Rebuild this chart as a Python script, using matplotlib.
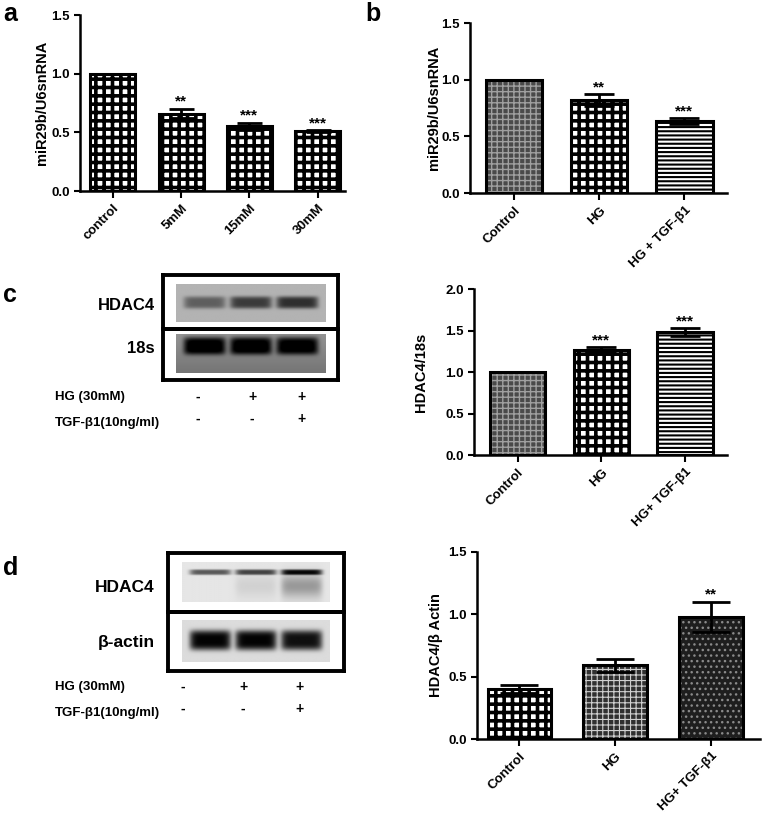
import numpy as np
import matplotlib as mpl
import matplotlib.pyplot as plt

plt.rcParams['font.family'] = ['Liberation Sans', 'DejaVu Sans']
plt.rcParams['font.weight'] = 'bold'
plt.rcParams['axes.labelweight'] = 'bold'
plt.rcParams['hatch.linewidth'] = 1.5

W, H = 762, 819

# ---- data ----
a_groups = ['control', '5mM', '15mM', '30mM']
a_vals = [1.0, 0.66, 0.55, 0.51]
a_err = [0.0, 0.04, 0.03, 0.01]
a_stars = ['', '**', '***', '***']

b_groups = ['Control', 'HG', 'HG + TGF-β1']
b_vals = [1.0, 0.82, 0.635]
b_err = [0.0, 0.05, 0.025]
b_stars = ['', '**', '***']

c_groups = ['Control', 'HG', 'HG+ TGF-β1']
c_vals = [1.0, 1.27, 1.48]
c_err = [0.0, 0.03, 0.05]
c_stars = ['', '***', '***']

d_groups = ['Control', 'HG', 'HG+ TGF-β1']
d_vals = [0.40, 0.59, 0.98]
d_err = [0.03, 0.05, 0.12]
d_stars = ['', '', '**']

# blot band darkness per lane
c_hdac4_bands = [0.33, 0.47, 0.52]
c_18s_bands = [0.62, 0.62, 0.6]
d_hdac4_bands = [0.55, 0.62, 0.8]
d_hdac4_smear = [0.0, 0.08, 0.3]
d_actin_bands = [0.85, 0.85, 0.8]

hg_row = ['-', '+', '+']
tgf_row = ['-', '-', '+']

# bar fills: (face, hatch colour, hatch, hatch linewidth)
checker = ('white', 'black', '++', 2.6)
fine = ('#4a4a4a', '#a0a0a0', '+++', 1.0)
stripes = ('white', 'black', '----', 1.5)
brick = ('#303030', '#d0d0d0', '+++', 0.8)
speckle = ('#1e1e1e', '#8a8a8a', '...', 1.0)


def box(l, t, r, b):
    return [l / W, 1 - b / H, (r - l) / W, (b - t) / H]


def ftext(x, y, s, **kw):
    fig.text(x / W, 1 - y / H, s, **kw)


fig = plt.figure(figsize=(W / 100, H / 100), dpi=100)


def bar_panel(px, groups, vals, errs, stars, fills, ylim, yticks, ylabel,
              xlim, label_right, capsize):
    l, t, r, b = px
    ax = fig.add_axes(box(l, t, r, b))
    x = np.arange(len(groups))
    width = 0.66
    for xi, v, (face, hc, hatch, hlw) in zip(x, vals, fills):
        with mpl.rc_context({'hatch.linewidth': hlw}):
            bars = ax.bar(xi, v, width, color=face, edgecolor=hc, hatch=hatch,
                          linewidth=0, zorder=2)
        for p in bars:
            if hasattr(p, 'set_hatch_linewidth'):
                p.set_hatch_linewidth(hlw)
    ax.bar(x, vals, width, fill=False, edgecolor='black', linewidth=2.2, zorder=3)
    ax.errorbar(x, vals, yerr=errs, fmt='none', ecolor='black', elinewidth=2,
                capsize=capsize, capthick=2, zorder=4)
    for xi, v, e, s in zip(x, vals, errs, stars):
        if s:
            ax.annotate(s, (xi, v + e), xytext=(0, 0), textcoords='offset points',
                        ha='center', va='bottom', fontsize=11)
    ax.set_xlim(*xlim)
    ax.set_ylim(*ylim)
    ax.set_yticks(yticks)
    ax.set_yticklabels([f'{t:.1f}' for t in yticks])
    ax.set_xticks(x)
    ax.set_xticklabels(groups, rotation=45, ha='right', rotation_mode='anchor')
    ax.tick_params(axis='both', labelsize=9.5, width=1.5, length=4)
    ax.tick_params(axis='x', length=5, pad=3)
    for sp in ['top', 'right']:
        ax.spines[sp].set_visible(False)
    for sp in ['left', 'bottom']:
        ax.spines[sp].set_linewidth(1.8)
    ax.set_ylabel(ylabel, fontsize=10.5)
    ax.yaxis.set_label_coords((label_right - l) / (r - l), 0.5)
    return ax


bar_panel((80, 15, 345, 191), a_groups, a_vals, a_err, a_stars,
          [checker] * 4, (0, 1.5), [0.0, 0.5, 1.0, 1.5], 'miR29b/U6snRNA',
          (-0.48, 3.4), 49, 9)
bar_panel((470, 23, 727, 193), b_groups, b_vals, b_err, b_stars,
          [fine, checker, stripes], (0, 1.5), [0.0, 0.5, 1.0, 1.5],
          'miR29b/U6snRNA', (-0.52, 2.5), 441, 11)
bar_panel((474, 289, 727, 455), c_groups, c_vals, c_err, c_stars,
          [fine, checker, stripes], (0, 2.0), [0.0, 0.5, 1.0, 1.5, 2.0],
          'HDAC4/18s', (-0.52, 2.5), 428, 11)
bar_panel((477, 552, 760, 739), d_groups, d_vals, d_err, d_stars,
          [checker, brick, speckle], (0, 1.5), [0.0, 0.5, 1.0, 1.5],
          'HDAC4/β Actin', (-0.44, 2.51), 443, 14)


def blot_image(bg, bands, yc, hh, smear=None, smear_bg=0.0):
    ny, nx = 60, 220
    yy, xx = np.mgrid[0:1:ny * 1j, 0:1:nx * 1j]
    img = np.full((ny, nx), bg) - smear_bg * yy
    centers = [0.19, 0.5, 0.81]
    for k, (c, inten) in enumerate(zip(centers, bands)):
        px = np.exp(-((xx - c) / 0.14) ** 8)
        py = np.exp(-((yy - yc) / hh) ** 4)
        img -= inten * px * py
        if smear is not None:
            sy = np.exp(-((yy - (yc + 0.35)) / 0.3) ** 2)
            img -= smear[k] * px * sy
    return np.clip(img, 0, 1)


def frame(l, t, r, b):
    ax = fig.add_axes(box(l, t, r, b))
    ax.set_xticks([])
    ax.set_yticks([])
    ax.patch.set_alpha(0)
    for sp in ax.spines.values():
        sp.set_linewidth(2.8)


def show(img, l, t, r, b):
    ax = fig.add_axes(box(l, t, r, b))
    ax.imshow(img, cmap='gray', vmin=0, vmax=1, aspect='auto',
              interpolation='bilinear')
    ax.axis('off')


# panel c blot
frame(163, 275, 338, 329)
frame(163, 329, 338, 380)
show(blot_image(0.70, c_hdac4_bands, 0.5, 0.16), 176, 284, 326, 322)
show(blot_image(0.58, c_18s_bands, 0.32, 0.22, smear_bg=0.12), 176, 334, 326, 373)

# panel d blot
frame(168, 553, 344, 612)
frame(168, 612, 344, 671)
show(blot_image(0.9, d_hdac4_bands, 0.25, 0.07, smear=d_hdac4_smear), 182, 562, 330, 602)
show(blot_image(0.86, d_actin_bands, 0.48, 0.24), 182, 620, 330, 662)

# blot labels
ftext(155, 305, 'HDAC4', ha='right', va='center', fontsize=12)
ftext(155, 348, '18s', ha='right', va='center', fontsize=12)
ftext(155, 587, 'HDAC4', ha='right', va='center', fontsize=12.5)
ftext(155, 643, 'β-actin', ha='right', va='center', fontsize=12.5)

for y0, xs in [(397, [198, 252, 302]), (687, [183, 243, 300])]:
    ftext(55, y0, 'HG (30mM)', ha='left', va='center', fontsize=9.5)
    ftext(55, y0 + 26, 'TGF-β1(10ng/ml)', ha='left', va='center', fontsize=9.5)
    for xp, s1, s2 in zip(xs, hg_row, tgf_row):
        ftext(xp, y0, s1, ha='center', va='center', fontsize=10)
        ftext(xp, y0 + 22, s2, ha='center', va='center', fontsize=10)

# panel letters
ftext(3, 14, 'a', fontsize=18, va='center')
ftext(365, 14, 'b', fontsize=18, va='center')
ftext(3, 295, 'c', fontsize=18, va='center')
ftext(3, 568, 'd', fontsize=18, va='center')

fig.savefig('out.png', dpi=100)
